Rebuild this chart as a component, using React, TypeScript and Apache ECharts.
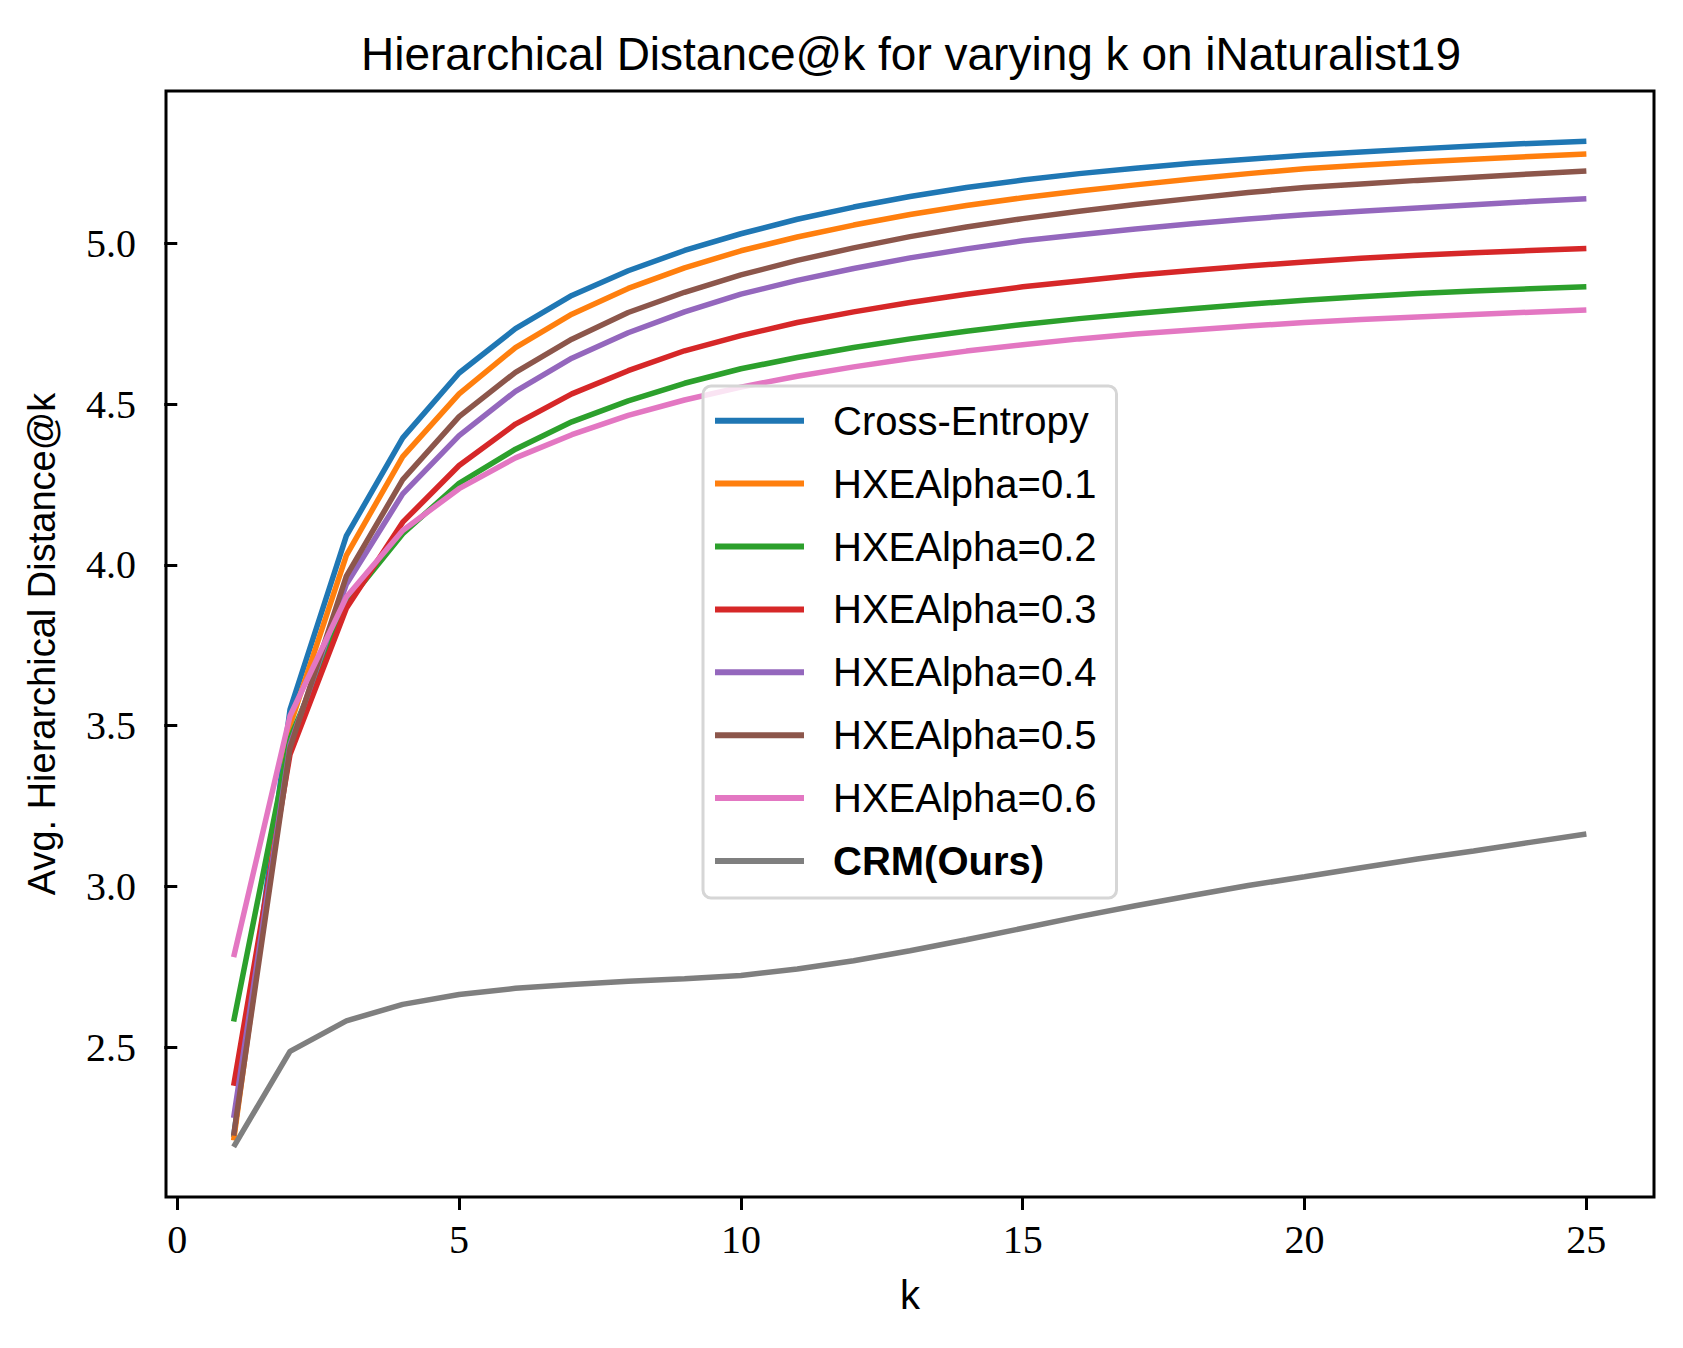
import React, { useEffect, useRef } from "react";
import * as echarts from "echarts";

const K = [1, 2, 3, 4, 5, 6, 7, 8, 9, 10, 11, 12, 13, 14, 15, 16, 17, 18, 19, 20, 21, 22, 23, 24, 25];

const SERIES_NAMES = [
  "Cross-Entropy",
  "HXEAlpha=0.1",
  "HXEAlpha=0.2",
  "HXEAlpha=0.3",
  "HXEAlpha=0.4",
  "HXEAlpha=0.5",
  "HXEAlpha=0.6",
  "CRM(Ours)",
];

const COLORS = ["#1f77b4", "#ff7f0e", "#2ca02c", "#d62728", "#9467bd", "#8c564b", "#e377c2", "#7f7f7f"];

const crossEntropy = [2.22, 3.55, 4.09, 4.395, 4.597, 4.735, 4.838, 4.915, 4.978, 5.03, 5.075, 5.113, 5.146, 5.174, 5.197, 5.217, 5.234, 5.249, 5.262, 5.274, 5.284, 5.294, 5.303, 5.311, 5.318];
const alpha01 = [2.21, 3.5, 4.03, 4.337, 4.532, 4.676, 4.78, 4.86, 4.924, 4.977, 5.02, 5.057, 5.09, 5.118, 5.142, 5.163, 5.182, 5.2, 5.217, 5.232, 5.243, 5.253, 5.262, 5.27, 5.278];
const alpha02 = [2.58, 3.46, 3.88, 4.097, 4.254, 4.36, 4.445, 4.51, 4.565, 4.61, 4.645, 4.676, 4.703, 4.727, 4.748, 4.766, 4.782, 4.797, 4.811, 4.823, 4.834, 4.844, 4.852, 4.859, 4.865];
const alpha03 = [2.38, 3.41, 3.865, 4.133, 4.309, 4.438, 4.532, 4.604, 4.666, 4.713, 4.754, 4.787, 4.816, 4.842, 4.865, 4.883, 4.901, 4.916, 4.93, 4.942, 4.954, 4.963, 4.971, 4.978, 4.984];
const alpha04 = [2.28, 3.44, 3.94, 4.221, 4.402, 4.54, 4.643, 4.722, 4.787, 4.842, 4.885, 4.922, 4.955, 4.983, 5.008, 5.027, 5.045, 5.061, 5.076, 5.089, 5.1, 5.11, 5.12, 5.13, 5.139];
const alpha05 = [2.225, 3.43, 3.965, 4.265, 4.461, 4.599, 4.702, 4.785, 4.848, 4.902, 4.947, 4.986, 5.021, 5.051, 5.077, 5.1, 5.121, 5.14, 5.158, 5.174, 5.185, 5.196, 5.206, 5.216, 5.225];
const alpha06 = [2.78, 3.53, 3.9, 4.107, 4.237, 4.333, 4.405, 4.465, 4.513, 4.553, 4.587, 4.616, 4.642, 4.665, 4.685, 4.703, 4.718, 4.731, 4.743, 4.754, 4.763, 4.771, 4.779, 4.786, 4.793];
const crm = [2.19, 2.487, 2.582, 2.633, 2.664, 2.683, 2.695, 2.705, 2.713, 2.723, 2.743, 2.769, 2.8, 2.834, 2.87, 2.906, 2.94, 2.972, 3.003, 3.03, 3.058, 3.085, 3.11, 3.137, 3.163];

const SERIES_VALUES = [crossEntropy, alpha01, alpha02, alpha03, alpha04, alpha05, alpha06, crm];

const X_TICKS = [0, 5, 10, 15, 20, 25];
const Y_TICKS = [2.5, 3.0, 3.5, 4.0, 4.5, 5.0];

const TITLE = "Hierarchical Distance@k for varying k on iNaturalist19";
const X_LABEL = "k";
const Y_LABEL = "Avg. Hierarchical Distance@k";

const SANS = "'Liberation Sans', Arial, sans-serif";
const SERIF = "'Liberation Serif', 'Times New Roman', serif";

export default function App() {
  const ref = useRef<HTMLDivElement>(null);

  useEffect(() => {
    if (!ref.current) return;
    const chart = echarts.init(ref.current, undefined, { renderer: "svg" });

    const series = SERIES_NAMES.map((name, i) => ({
      name,
      type: "line",
      data: K.map((k, j) => [k, SERIES_VALUES[i][j]]),
      showSymbol: false,
      symbol: "none",
      lineStyle: { color: COLORS[i], width: 5.5 },
      itemStyle: { color: COLORS[i] },
      emphasis: { disabled: true },
    }));

    chart.setOption({
      animation: false,
      backgroundColor: "#ffffff",
      title: {
        text: TITLE,
        left: 906,
        top: 26,
        textAlign: "center",
        textStyle: {
          fontFamily: SANS,
          fontSize: 46,
          fontWeight: "normal",
          color: "#000",
          lineHeight: 46,
        },
      },
      grid: {
        left: 166,
        right: 29,
        top: 91,
        bottom: 151,
        show: true,
        borderColor: "#000",
        borderWidth: 3,
        backgroundColor: "transparent",
      },
      legend: {
        orient: "vertical",
        left: 703,
        top: 386,
        data: SERIES_NAMES.map((n) =>
          n === "CRM(Ours)" ? { name: n, textStyle: { fontWeight: "bold" } } : { name: n }
        ),
        icon: "rect",
        itemWidth: 89,
        itemHeight: 6,
        itemGap: 18.9,
        padding: [12.7, 20, 15, 12],
        backgroundColor: "rgba(255,255,255,0.8)",
        borderColor: "#d6d6d6",
        borderWidth: 3,
        borderRadius: 8,
        selectedMode: false,
        textStyle: {
          fontFamily: SANS,
          fontSize: 40,
          lineHeight: 44,
          color: "#000",
          padding: [0, 0, 0, 24],
        },
      },
      xAxis: {
        type: "value",
        min: -0.2,
        max: 26.2,
        name: X_LABEL,
        nameLocation: "middle",
        nameGap: 76,
        nameTextStyle: { fontFamily: SANS, fontSize: 40, color: "#000", lineHeight: 44 },
        axisLine: { show: false },
        splitLine: { show: false },
        axisTick: {
          show: true,
          length: 13,
          lineStyle: { color: "#000", width: 3 },
          customValues: X_TICKS,
        },
        axisLabel: {
          margin: 22,
          fontFamily: SERIF,
          fontSize: 40,
          lineHeight: 40,
          color: "#000",
          customValues: X_TICKS,
          formatter: (v: number) => String(v),
        },
      },
      yAxis: {
        type: "value",
        min: 2.034,
        max: 5.474,
        name: Y_LABEL,
        nameLocation: "middle",
        nameGap: 102,
        nameTextStyle: { fontFamily: SANS, fontSize: 38, color: "#000", lineHeight: 44 },
        axisLine: { show: false },
        splitLine: { show: false },
        axisTick: {
          show: true,
          length: 13,
          lineStyle: { color: "#000", width: 3 },
          customValues: Y_TICKS,
        },
        axisLabel: {
          margin: 30,
          fontFamily: SERIF,
          fontSize: 40,
          color: "#000",
          customValues: Y_TICKS,
          formatter: (v: number) => v.toFixed(1),
        },
      },
      series,
    });

    return () => chart.dispose();
  }, []);

  return (
    <div
      ref={ref}
      style={{ position: "absolute", left: 0, top: 0, width: 1683, height: 1348 }}
    />
  );
}
